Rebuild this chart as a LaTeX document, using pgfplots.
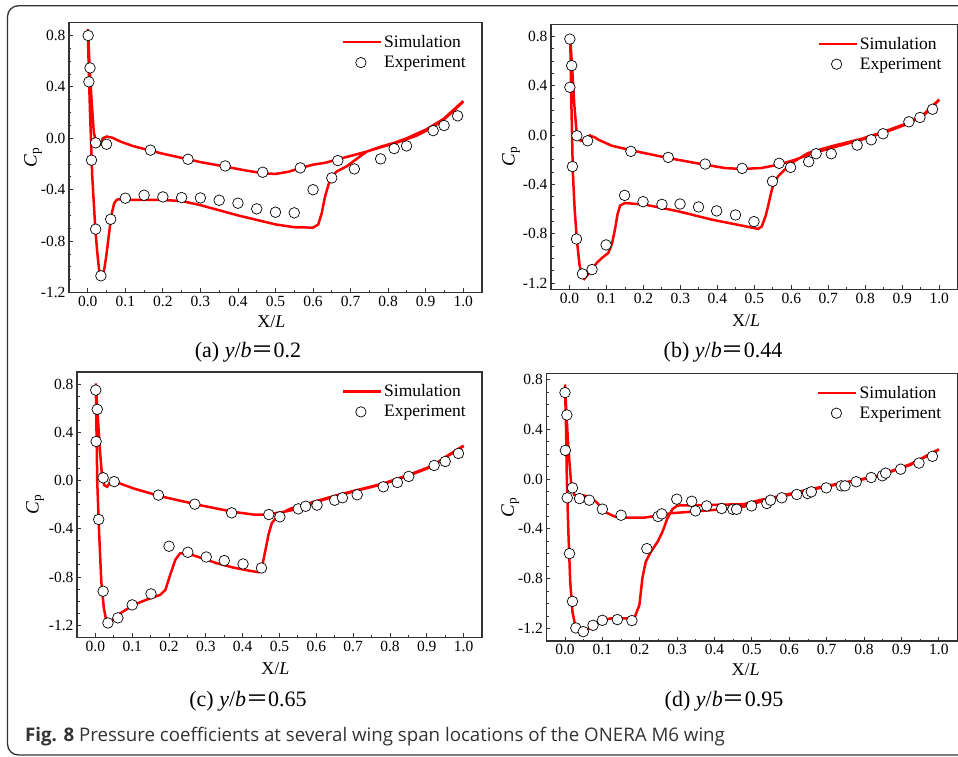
\documentclass[border=0pt]{standalone}
\usepackage{pgfplots}
\pgfplotsset{compat=1.18}
\usepackage{fontspec}
\setmainfont{Liberation Serif}
\newfontfamily\capfont{Open Sans}
\newfontfamily\cjk{Noto Sans CJK SC}

\pgfplotsset{
  cp/.style={
    scale only axis, anchor=south west,
    xmin=-0.05, xmax=1.05,
    xtick={0,0.1,0.2,0.3,0.4,0.5,0.6,0.7,0.8,0.9,1.0},
    xticklabels={0.0,0.1,0.2,0.3,0.4,0.5,0.6,0.7,0.8,0.9,1.0},
    ytick={-1.2,-0.8,-0.4,0,0.4,0.8},
    yticklabels={-1.2,-0.8,-0.4,0.0,0.4,0.8},
    minor x tick num=1, minor y tick num=3,
    tick align=inside, tick pos=left,
    major tick length=4pt, minor tick length=2.5pt,
    axis line style={line width=1.1pt, black!80},
    every tick/.style={black!80, line width=0.9pt},
    tick label style={font=\fontsize{15.5}{16}\selectfont},
    xlabel={X/\textit{L}},
    ylabel={\textit{C}\textsubscript{p}},
    every axis x label/.style={anchor=center, font=\fontsize{18}{19}\selectfont},
    every axis y label/.style={rotate=90, anchor=center, font=\fontsize{19}{20}\selectfont},
    legend style={draw=none, fill=none, at={(1,1)}, anchor=north east,
      xshift=-12pt, yshift=-8.5pt, font=\fontsize{17.5}{19}\selectfont,
      row sep=3pt, inner sep=2pt},
    legend cell align=left,
  },
  sim/.style={red, line width=2.5pt,
    legend image code/.code={\draw[red, line width=2.5pt] (0pt,0pt) -- (38pt,0pt);}},
  exp/.style={only marks, mark=*, mark size=5.3pt,
    mark options={fill=white, draw=black, line width=0.7pt},
    legend image code/.code={\path[draw=none, fill=none] (0pt,-1pt) rectangle (38pt,1pt);
      \draw[black, fill=white, line width=0.7pt] (18pt,0pt) circle (5.2pt);}},
}

\begin{document}
\begin{tikzpicture}[x=1pt, y=1pt]
\useasboundingbox (0,0) rectangle (958,756);
\clip (0,0) rectangle (958,756);

% outer frame
\draw[line width=1.3pt, black!80, rounded corners=11pt]
  (995,1) -- (7.5,1) -- (7.5,750.3) -- (995,750.3);

% (a) y/b = 0.2
\begin{axis}[cp, at={(69pt,463.5pt)}, width=413pt, height=269.8pt,
  ymin=-1.2, ymax=0.9,
  xlabel style={at={([yshift=-29.5pt]rel axis cs:0.49,0)}},
  ylabel style={at={([xshift=-36pt]rel axis cs:0,0.5)}}]
\addplot[sim] coordinates {
 (1.0,0.286) (0.975,0.215) (0.947,0.143) (0.925,0.10) (0.902,0.06) (0.875,0.02)
 (0.849,-0.007) (0.816,-0.04) (0.78,-0.07) (0.743,-0.103) (0.70,-0.137)
 (0.666,-0.163) (0.633,-0.19) (0.60,-0.205) (0.566,-0.232) (0.535,-0.26)
 (0.50,-0.277) (0.466,-0.272) (0.42,-0.25) (0.366,-0.22) (0.30,-0.185)
 (0.267,-0.163) (0.2,-0.12) (0.167,-0.095) (0.12,-0.06) (0.087,-0.025)
 (0.065,0.005) (0.05,0.014) (0.04,0.0) (0.034,-0.05) (0.027,-0.055)
 (0.021,-0.02) (0.016,0.05) (0.01,0.3) (0.005,0.55) (0.002,0.75) (0,0.85)
 (0.003,0.5) (0.006,0.2) (0.009,-0.05) (0.012,-0.3) (0.016,-0.5) (0.02,-0.7)
 (0.025,-0.88) (0.03,-1.02) (0.035,-1.075) (0.04,-1.07) (0.045,-1.0)
 (0.05,-0.9) (0.055,-0.78) (0.06,-0.66) (0.065,-0.57) (0.07,-0.51)
 (0.075,-0.485) (0.08,-0.475) (0.1,-0.478) (0.15,-0.48) (0.2,-0.48)
 (0.25,-0.488) (0.3,-0.52) (0.35,-0.56) (0.4,-0.6) (0.45,-0.635) (0.5,-0.67)
 (0.55,-0.692) (0.6,-0.695) (0.614,-0.67) (0.623,-0.583) (0.632,-0.453)
 (0.641,-0.362) (0.65,-0.298) (0.663,-0.258) (0.689,-0.219) (0.725,-0.141)
 (0.743,-0.103) (0.78,-0.065) (0.816,-0.035) (0.849,0.0) (0.902,0.07)
 (0.947,0.15) (1.0,0.29)
};
\addlegendentry{Simulation}
\addplot[exp] coordinates {
 (0.001,0.80) (0.006,0.548) (0.003,0.44) (0.021,-0.035) (0.05,-0.046)
 (0.01,-0.17) (0.021,-0.707) (0.035,-1.07) (0.061,-0.63) (0.1,-0.466)
 (0.15,-0.443) (0.2,-0.456) (0.25,-0.461) (0.30,-0.464) (0.35,-0.482)
 (0.40,-0.505) (0.45,-0.549) (0.50,-0.575) (0.55,-0.58) (0.60,-0.40)
 (0.65,-0.308) (0.71,-0.238) (0.78,-0.16) (0.816,-0.08) (0.849,-0.059)
 (0.92,0.06) (0.949,0.10) (0.985,0.175) (0.167,-0.092) (0.267,-0.163)
 (0.366,-0.215) (0.466,-0.264) (0.566,-0.230) (0.666,-0.173)
};
\addlegendentry{Experiment}
\end{axis}

% (b) y/b = 0.44
\begin{axis}[cp, at={(551pt,466.7pt)}, width=406.7pt, height=265pt,
  ymin=-1.25, ymax=0.9,
  xlabel style={at={([yshift=-31pt]rel axis cs:0.48,0)}},
  ylabel style={at={([xshift=-40pt]rel axis cs:0,0.5)}}]
\addplot[sim] coordinates {
 (1.0,0.287) (0.96,0.166) (0.915,0.092) (0.852,0.022) (0.789,-0.037)
 (0.708,-0.104) (0.654,-0.15) (0.609,-0.2) (0.564,-0.24) (0.519,-0.266)
 (0.465,-0.274) (0.42,-0.266) (0.366,-0.239) (0.267,-0.185) (0.168,-0.123)
 (0.114,-0.085) (0.078,-0.036) (0.07,-0.02) (0.055,-0.002) (0.05,-0.01)
 (0.04,-0.035) (0.03,-0.045) (0.02,-0.005) (0.013,0.25) (0.008,0.5)
 (0.004,0.7) (0.002,0.82)
 (0.004,0.4) (0.007,0.0) (0.009,-0.3) (0.014,-0.6) (0.02,-0.85) (0.027,-1.05)
 (0.034,-1.14) (0.04,-1.165) (0.05,-1.13) (0.06,-1.09) (0.074,-1.035)
 (0.09,-0.99) (0.105,-0.955) (0.115,-0.88) (0.123,-0.765) (0.13,-0.64)
 (0.137,-0.57) (0.15,-0.55) (0.204,-0.563) (0.294,-0.617) (0.384,-0.684)
 (0.474,-0.738) (0.51,-0.76) (0.52,-0.74) (0.53,-0.66) (0.537,-0.577)
 (0.545,-0.47) (0.55,-0.415) (0.564,-0.334) (0.6,-0.226) (0.645,-0.145)
 (0.708,-0.09) (0.789,-0.03) (0.852,0.03) (0.915,0.1) (0.96,0.175) (1.0,0.29)
};
\addlegendentry{Simulation}
\addplot[exp] coordinates {
 (0.001,0.78) (0.006,0.565) (0.001,0.389) (0.02,-0.004) (0.049,-0.045)
 (0.008,-0.254) (0.019,-0.842) (0.035,-1.125) (0.061,-1.09) (0.099,-0.89)
 (0.149,-0.488) (0.199,-0.539) (0.25,-0.561) (0.299,-0.558) (0.349,-0.582)
 (0.398,-0.614) (0.449,-0.647) (0.499,-0.701) (0.549,-0.374) (0.598,-0.261)
 (0.647,-0.215) (0.166,-0.131) (0.267,-0.18) (0.367,-0.234) (0.467,-0.269)
 (0.567,-0.228) (0.667,-0.15) (0.708,-0.15) (0.778,-0.08) (0.816,-0.037)
 (0.848,0.012) (0.918,0.109) (0.948,0.144) (0.982,0.211)
};
\addlegendentry{Experiment}
\end{axis}

% (c) y/b = 0.65
\begin{axis}[cp, at={(77pt,118.7pt)}, width=405pt, height=265.3pt,
  ymin=-1.3, ymax=0.9,
  xlabel style={at={([yshift=-31pt]rel axis cs:0.49,0)}},
  ylabel style={at={([xshift=-42pt]rel axis cs:0,0.5)}}]
\addplot[sim] coordinates {
 (1.0,0.285) (0.953,0.196) (0.917,0.119) (0.854,0.044) (0.781,-0.03)
 (0.709,-0.085) (0.646,-0.135) (0.601,-0.177) (0.556,-0.232) (0.51,-0.26)
 (0.465,-0.282) (0.429,-0.282) (0.375,-0.26) (0.285,-0.205) (0.176,-0.13)
 (0.104,-0.066) (0.059,-0.016) (0.041,-0.01) (0.032,-0.052) (0.024,-0.038)
 (0.018,0.031) (0.012,0.266) (0.005,0.598) (0.001,0.806)
 (0.003,0.404) (0.005,-0.011) (0.01,-0.426) (0.016,-0.84) (0.023,-1.06)
 (0.03,-1.17) (0.036,-1.184) (0.05,-1.148) (0.068,-1.1) (0.104,-1.031)
 (0.149,-0.976) (0.176,-0.948) (0.19,-0.907) (0.203,-0.783) (0.217,-0.658)
 (0.23,-0.603) (0.248,-0.603) (0.285,-0.639) (0.33,-0.686) (0.375,-0.722)
 (0.42,-0.749) (0.443,-0.76) (0.452,-0.727) (0.461,-0.589) (0.47,-0.45)
 (0.479,-0.354) (0.497,-0.285) (0.528,-0.235) (0.6,-0.17) (0.646,-0.13)
 (0.709,-0.08) (0.781,-0.025) (0.854,0.05) (0.917,0.125) (0.953,0.2) (1.0,0.29)
};
\addlegendentry{Simulation}
\addplot[exp] coordinates {
 (0.001,0.75) (0.005,0.59) (0.002,0.324) (0.021,0.023) (0.051,-0.009)
 (0.009,-0.323) (0.021,-0.918) (0.034,-1.181) (0.061,-1.139) (0.1,-1.031)
 (0.151,-0.94) (0.2,-0.545) (0.251,-0.595) (0.301,-0.634) (0.35,-0.664)
 (0.401,-0.692) (0.451,-0.725) (0.471,-0.282) (0.501,-0.301)
 (0.171,-0.121) (0.27,-0.196) (0.37,-0.268) (0.551,-0.235) (0.571,-0.213)
 (0.602,-0.204) (0.65,-0.163) (0.671,-0.143) (0.711,-0.118) (0.782,-0.052)
 (0.82,-0.016) (0.851,0.034) (0.92,0.125) (0.95,0.158) (0.986,0.225)
};
\addlegendentry{Experiment}
\end{axis}

% (d) y/b = 0.95
\begin{axis}[cp, at={(546.3pt,115pt)}, width=411.2pt, height=267.7pt,
  ymin=-1.3, ymax=0.85,
  xlabel style={at={([yshift=-29pt]rel axis cs:0.485,0)}},
  ylabel style={at={([xshift=-36pt]rel axis cs:0,0.5)}}]
\addplot[sim] coordinates {
 (1.0,0.236) (0.924,0.115) (0.835,0.021) (0.746,-0.032) (0.657,-0.086)
 (0.568,-0.148) (0.524,-0.18) (0.479,-0.22) (0.435,-0.239) (0.345,-0.26)
 (0.283,-0.274) (0.248,-0.293) (0.212,-0.309) (0.167,-0.309) (0.132,-0.3)
 (0.105,-0.26) (0.087,-0.193) (0.069,-0.148) (0.052,-0.132) (0.034,-0.14)
 (0.025,-0.126) (0.016,-0.019) (0.009,0.25) (0.004,0.518) (0,0.76)
 (0.003,0.384) (0.005,-0.019) (0.009,-0.421) (0.014,-0.824) (0.02,-1.066)
 (0.028,-1.187) (0.038,-1.227) (0.052,-1.227) (0.069,-1.187) (0.096,-1.133)
 (0.123,-1.119) (0.158,-1.119) (0.185,-1.119) (0.199,-1.012) (0.207,-0.797)
 (0.216,-0.663) (0.23,-0.583) (0.248,-0.502) (0.261,-0.421) (0.274,-0.314)
 (0.288,-0.239) (0.301,-0.212) (0.39,-0.207) (0.479,-0.201) (0.524,-0.166)
 (0.568,-0.14) (0.657,-0.08) (0.746,-0.028) (0.835,0.025) (0.924,0.12) (1.0,0.24)
};
\addlegendentry{Simulation}
\addplot[exp] coordinates {
 (0,0.695) (0.005,0.515) (0.001,0.231) (0.02,-0.07) (0.006,-0.15)
 (0.039,-0.156) (0.065,-0.169) (0.1,-0.241) (0.15,-0.29) (0.012,-0.598)
 (0.02,-0.982) (0.029,-1.195) (0.049,-1.225) (0.075,-1.174) (0.1,-1.134)
 (0.14,-1.128) (0.179,-1.136) (0.219,-0.558) (0.249,-0.3) (0.259,-0.279)
 (0.299,-0.161) (0.339,-0.178) (0.349,-0.255) (0.379,-0.215) (0.419,-0.236)
 (0.449,-0.242) (0.459,-0.242) (0.499,-0.215) (0.54,-0.196) (0.55,-0.169)
 (0.58,-0.15) (0.62,-0.123) (0.649,-0.115) (0.659,-0.102) (0.699,-0.07)
 (0.739,-0.054) (0.749,-0.054) (0.779,-0.021) (0.819,0.013) (0.849,0.027)
 (0.858,0.048) (0.898,0.08) (0.947,0.129) (0.983,0.183)
};
\addlegendentry{Experiment}
\end{axis}

% panel captions
\begin{scope}[every node/.style={font=\fontsize{22}{24}\selectfont, anchor=base}]
\node at (248,398) {(a) \textit{y}/\textit{b}{\cjk ＝}0.2};
\node at (723,399) {(b) \textit{y}/\textit{b}{\cjk ＝}0.44};
\node at (248,50) {(c) \textit{y}/\textit{b}{\cjk ＝}0.65};
\node at (724,49.3) {(d) \textit{y}/\textit{b}{\cjk ＝}0.95};
\end{scope}

\node[anchor=base west, inner sep=0pt, text=black!80,
  font=\capfont\fontsize{18.7}{20}\selectfont] at (25,15)
  {\textbf{Fig. 8} Pressure coefficients at several wing span locations of the ONERA M6 wing};
\end{tikzpicture}
\end{document}
